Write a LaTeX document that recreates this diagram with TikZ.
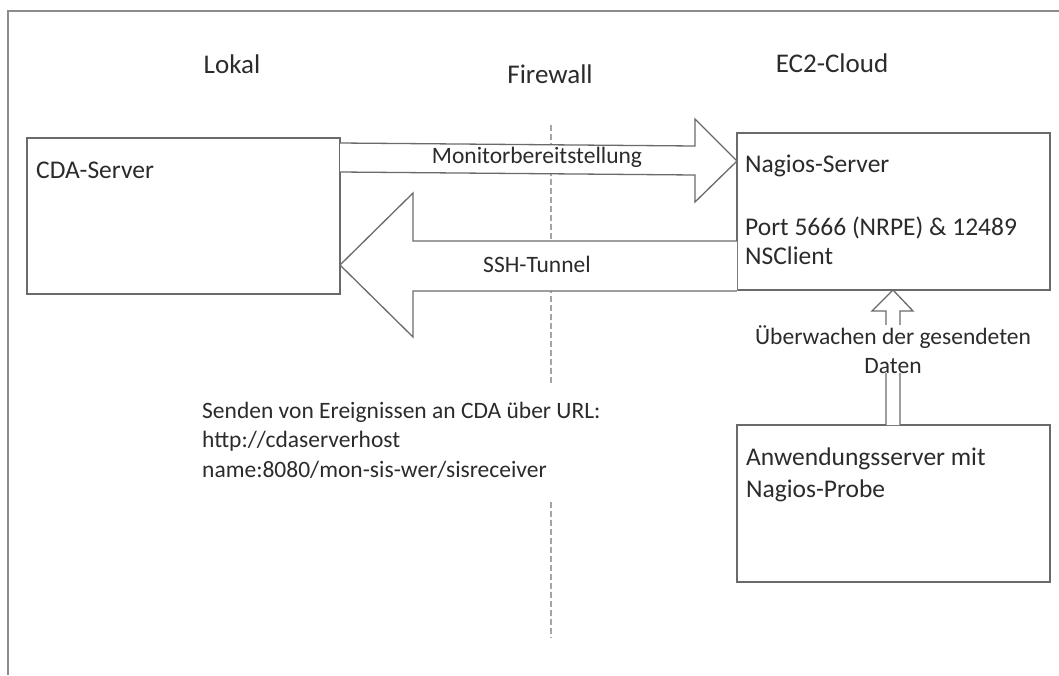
\documentclass[tikz,border=0pt]{standalone}
\usepackage{fontspec}
\setmainfont{Carlito}
\definecolor{txt}{HTML}{2B2B2B}
\definecolor{ln}{HTML}{6A6A6A}
\definecolor{fw}{HTML}{A6A6A6}
\definecolor{frm}{HTML}{8C8C8C}
\begin{document}
\begin{tikzpicture}[x=1pt,y=-1pt,
  box/.style={draw=ln,line width=1.4pt,fill=white},
  arrowshape/.style={draw=ln,line width=1.3pt,fill=white,line join=miter},
  title/.style={anchor=base,text=txt,font=\fontsize{27}{32}\selectfont,inner sep=0pt},
  boxtext/.style={anchor=base west,text=txt,font=\fontsize{25.5}{30}\selectfont,inner sep=0pt},
  lbl/.style={text=txt,font=\fontsize{23.5}{29}\selectfont,inner sep=0pt}]
\useasboundingbox (0,0) rectangle (1059,675);
% frame
\draw[frm,line width=2pt] (8,675) -- (8,11) -- (1059,11);
% titles
\node[title] (lokal) at (232,73) {Lokal};
\node[title] (firewall) at (550,83) {Firewall};
\node[title] (ec2) at (832,72) {EC2-Cloud};
% firewall line
\coordinate (fw1) at (551,125);
\coordinate (fw2) at (551,385);
\coordinate (fw3) at (551,502);
\coordinate (fw4) at (551,638);
\draw[fw,line width=2pt,dash pattern=on 6pt off 3pt] (fw1) -- (fw2);
\draw[fw,line width=2pt,dash pattern=on 6pt off 3pt] (fw3) -- (fw4);
% boxes
\draw[box] (27,138) rectangle (340,294);
\coordinate (cda) at (27,138);
\node[boxtext] (cdat) at (36,178) {CDA-Server};
\draw[box] (737,133) rectangle (1050,290);
\node[boxtext] (nag1) at (745,172) {Nagios-Server};
\node[boxtext] (nag2) at (745,235) {Port 5666 (NRPE) \& 12489};
\node[boxtext] (nag3) at (745,264) {NSClient};
\draw[box] (737,425) rectangle (1050,582);
\node[boxtext] (anw1) at (746,465) {Anwendungsserver mit};
\node[boxtext] (anw2) at (746,497) {Nagios-Probe};
% Monitor arrow
\draw[arrowshape] (340,143) -- (695,146) -- (695,119) -- (737,161) -- (695,202) -- (695,175) -- (340,172);
\node[lbl,anchor=base] (mon) at (537,163) {Monitorbereitstellung};
% SSH arrow
\draw[arrowshape] (737,241) -- (413,241) -- (413,193) -- (340,265) -- (413,337) -- (413,291) -- (737,291);
\node[lbl,anchor=base] (ssh) at (537,272) {SSH-Tunnel};
% up arrow
\draw[arrowshape] (886,425) -- (886,311) -- (872,311) -- (893,290) -- (913,311) -- (900,311) -- (900,425);
\node[lbl,fill=white,align=center,anchor=base] (ueb) at (893,373) {Überwachen der gesendeten\\Daten};
% url text
\node[lbl,anchor=base west] (s1) at (202,418) {Senden von Ereignissen an CDA über URL:};
\node[lbl,anchor=base west] (s2) at (202,447) {http://cdaserverhost};
\node[lbl,anchor=base west] (s3) at (202,477) {name:8080/mon-sis-wer/sisreceiver};
\end{tikzpicture}
\end{document}
